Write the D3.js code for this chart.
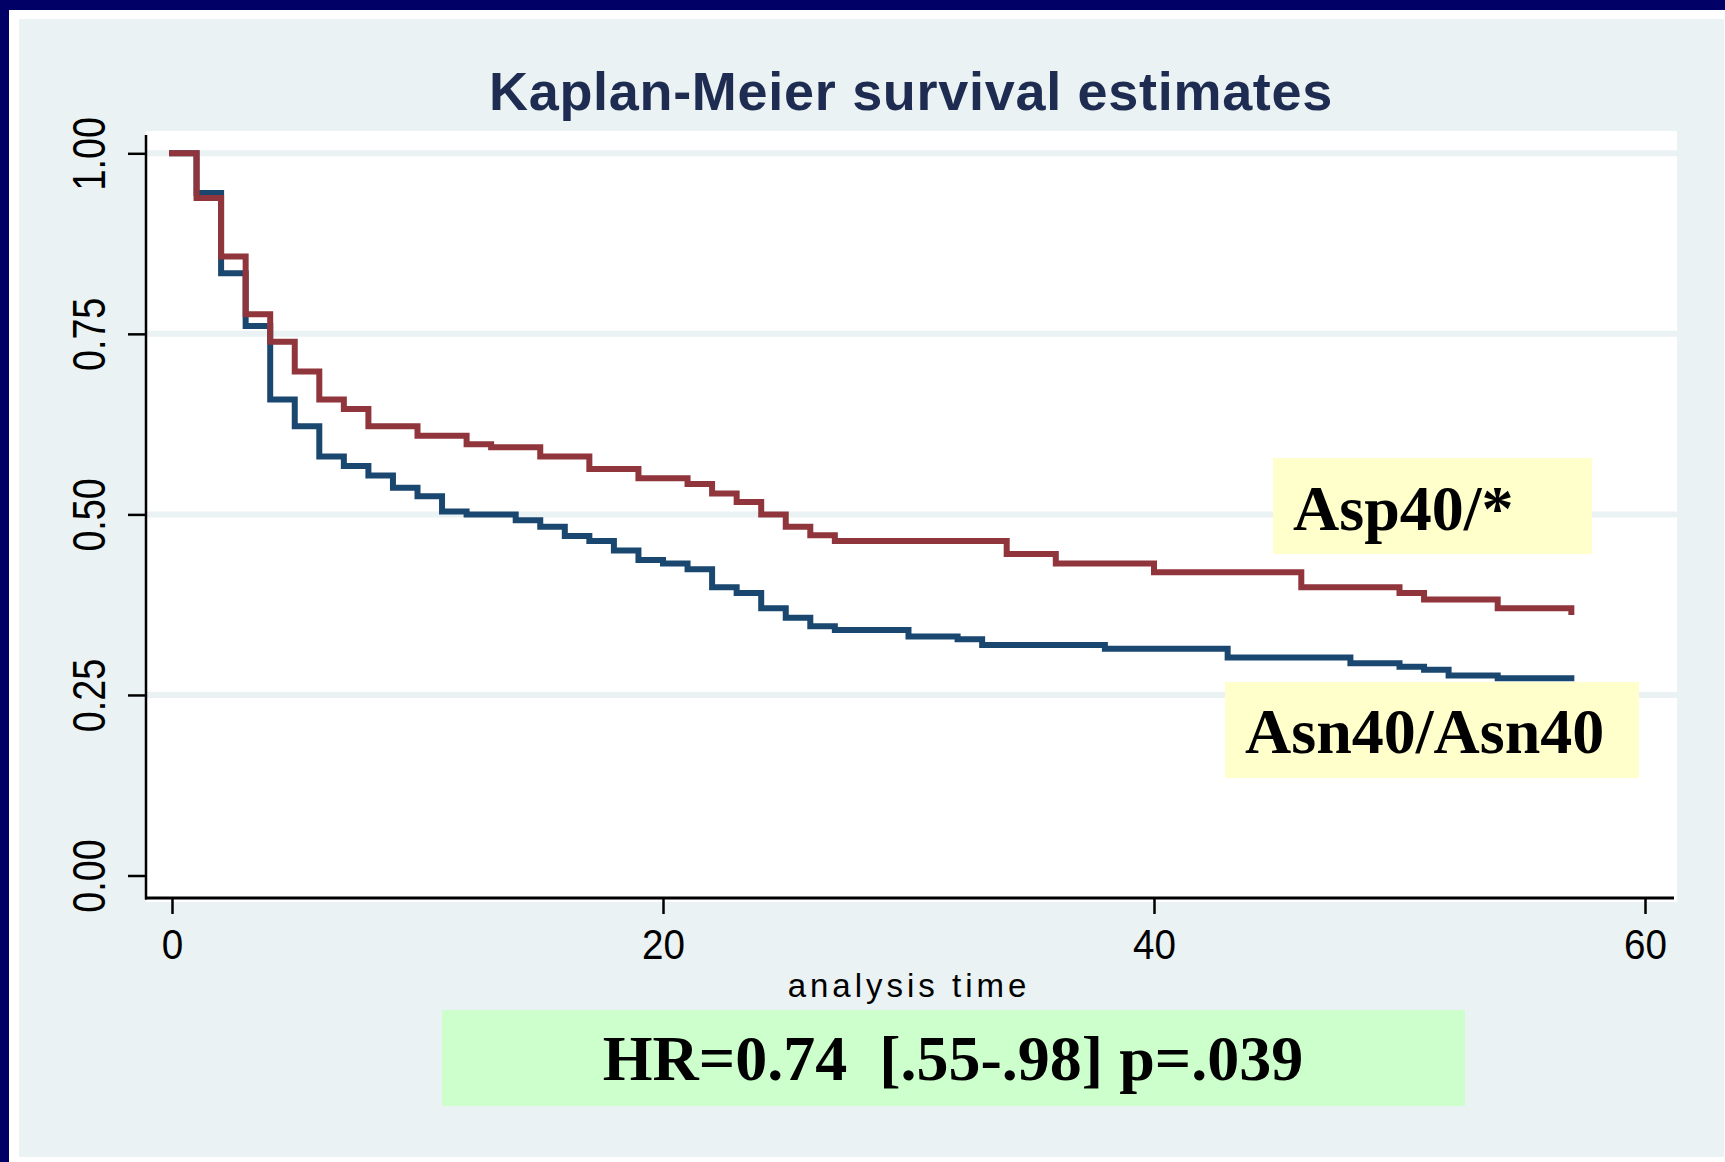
<!DOCTYPE html>
<html>
<head>
<meta charset="utf-8">
<script src="https://cdn.jsdelivr.net/npm/d3@7"></script>
<style>
    body { margin: 0; background: #ffffff; }
    svg { display: block; }
</style>
</head>
<body>
<div id="kmplot"></div>
<script>
// Kaplan-Meier curves, Asp40/* vs Asn40/Asn40
// times where the estimate steps down (months) and the level after the step
var redTimes = [0, 1, 2, 3, 4, 5, 6, 7, 8, 10, 12, 13, 15, 17, 19, 21, 22, 23, 24, 25, 26, 27, 34, 36, 40, 46, 50, 51, 54, 57];
var redSurv = [1, 0.938, 0.857, 0.777, 0.739, 0.698, 0.659, 0.646, 0.622, 0.609, 0.597, 0.593, 0.580, 0.563, 0.550,
    0.542, 0.529, 0.517, 0.500, 0.483, 0.471, 0.463, 0.445, 0.432, 0.420, 0.399, 0.391, 0.382, 0.370, 0.365];

var blueTimes = [0, 1, 2, 3, 4, 5, 6, 7, 8, 9, 10, 11, 12, 14, 15, 16, 17, 18, 19, 20, 21, 22, 23, 24, 25, 26, 27,
    30, 32, 33, 38, 43, 48, 50, 51, 52, 54, 57];
var blueSurv = [1, 0.945, 0.834, 0.761, 0.659, 0.622, 0.580, 0.567, 0.554, 0.537, 0.525, 0.504, 0.500, 0.492, 0.483,
    0.470, 0.463, 0.450, 0.437, 0.432, 0.424, 0.399, 0.391, 0.370, 0.357, 0.345, 0.340,
    0.331, 0.327, 0.319, 0.314, 0.302, 0.294, 0.289, 0.285, 0.277, 0.273, 0.273];

var yTicks = [0, 0.25, 0.5, 0.75, 1];
var xTicks = [0, 20, 40, 60];
var gridTicks = [0.25, 0.5, 0.75, 1];

var titleText = "Kaplan-Meier survival estimates";
var xTitle = "analysis time";
var redLabel = "Asp40/*";
var blueLabel = "Asn40/Asn40";
var hrText = "HR=0.74  [.55-.98] p=.039";

// svg container
var svgWidth = 1725;
var svgHeight = 1162;
var bgColor = "#eaf2f3";

var svg = d3.select("#kmplot").append("svg")
    .attr("width", svgWidth)
    .attr("height", svgHeight);

// frame: navy edge on top/left, white strip, then light graph region
svg.append("rect").attr("x", 0).attr("y", 0).attr("width", svgWidth).attr("height", svgHeight).attr("fill", "#ffffff");
svg.append("rect").attr("x", 0).attr("y", 0).attr("width", svgWidth).attr("height", 10).attr("fill", "#000066");
svg.append("rect").attr("x", 0).attr("y", 0).attr("width", 9).attr("height", svgHeight).attr("fill", "#000066");
svg.append("rect").attr("x", 19).attr("y", 19).attr("width", 1705).attr("height", 1138).attr("fill", bgColor);

// plot region
var plot = {left: 146, top: 131, right: 1677, bottom: 902};
svg.append("rect")
    .attr("x", plot.left)
    .attr("y", plot.top)
    .attr("width", plot.right - plot.left)
    .attr("height", plot.bottom - plot.top)
    .attr("fill", "#ffffff");

// scales
var xScale = d3.scaleLinear().domain([0, 60]).range([172, 1645]);
var yScale = d3.scaleLinear().domain([0, 1]).range([875.5, 153.3]);

// gridlines
svg.append("g").selectAll("line")
    .data(gridTicks)
    .enter()
    .append("line")
    .attr("x1", plot.left)
    .attr("x2", plot.right)
    .attr("y1", d => yScale(d))
    .attr("y2", d => yScale(d))
    .attr("stroke", bgColor)
    .attr("stroke-width", 6);

// title
svg.append("text")
    .attr("x", 911)
    .attr("y", 110)
    .attr("text-anchor", "middle")
    .attr("font-family", "'Liberation Sans', Arial, sans-serif")
    .attr("font-size", 54)
    .attr("font-weight", "bold")
    .attr("letter-spacing", 0.7)
    .attr("fill", "#1e2c52")
    .text(titleText);

// y axis
var yAxis = d3.axisLeft(yScale)
    .tickValues(yTicks)
    .tickFormat(d3.format(".2f"))
    .tickSize(18)
    .tickSizeOuter(0);

var gy = svg.append("g")
    .attr("transform", `translate(${plot.left}, 0)`)
    .call(yAxis);
gy.select(".domain").remove();
gy.selectAll(".tick line").attr("stroke", "#000").attr("stroke-width", 2.5);
gy.selectAll(".tick text")
    .attr("x", null)
    .attr("dy", null)
    .attr("text-anchor", "middle")
    .attr("transform", "translate(-41, 0) rotate(-90) scale(0.82, 1)")
    .attr("font-family", "'Liberation Sans', Arial, sans-serif")
    .attr("font-size", 46)
    .attr("fill", "#000");

// x axis
var xAxis = d3.axisBottom(xScale)
    .tickValues(xTicks)
    .tickFormat(d3.format("d"))
    .tickSize(16)
    .tickSizeOuter(0);

var gx = svg.append("g")
    .attr("transform", "translate(0, 898)")
    .call(xAxis);
gx.select(".domain").remove();
gx.selectAll(".tick line").attr("stroke", "#000").attr("stroke-width", 2.5);
gx.selectAll(".tick text")
    .attr("y", 61)
    .attr("dy", null)
    .attr("transform", "scale(0.92, 1)")
    .attr("font-family", "'Liberation Sans', Arial, sans-serif")
    .attr("font-size", 42)
    .attr("fill", "#000");

// axis lines
svg.append("line")
    .attr("x1", plot.left).attr("x2", plot.left)
    .attr("y1", 135).attr("y2", 899.5)
    .attr("stroke", "#000").attr("stroke-width", 2.5);
svg.append("line")
    .attr("x1", plot.left - 1).attr("x2", 1674)
    .attr("y1", 898).attr("y2", 898)
    .attr("stroke", "#000").attr("stroke-width", 3);

// x title
svg.append("text")
    .attr("x", 909)
    .attr("y", 997)
    .attr("text-anchor", "middle")
    .attr("font-family", "'Liberation Sans', Arial, sans-serif")
    .attr("font-size", 33)
    .attr("letter-spacing", 4)
    .attr("fill", "#000")
    .text(xTitle);

// survival curves, blue first so maroon sits on top
var stepLine = d3.line()
    .x(d => xScale(d[0]))
    .y(d => yScale(d[1]))
    .curve(d3.curveStepAfter);

var blueData = blueTimes.map((t, i) => [t, blueSurv[i]]);
var redData = redTimes.map((t, i) => [t, redSurv[i]]);

svg.append("path")
    .datum(blueData)
    .attr("d", stepLine)
    .attr("fill", "none")
    .attr("stroke", "#1a476f")
    .attr("stroke-width", 6)
    .attr("stroke-linecap", "square");

svg.append("path")
    .datum(redData)
    .attr("d", stepLine)
    .attr("fill", "none")
    .attr("stroke", "#90353b")
    .attr("stroke-width", 6)
    .attr("stroke-linecap", "square");

// text boxes
var serif = "'Liberation Serif', 'Times New Roman', serif";

function labelBox(x, y, w, h, fill, text, tx, ty, anchor) {
    svg.append("rect")
        .attr("x", x).attr("y", y)
        .attr("width", w).attr("height", h)
        .attr("fill", fill);
    svg.append("text")
        .attr("x", tx)
        .attr("y", ty)
        .attr("text-anchor", anchor)
        .attr("font-family", serif)
        .attr("font-size", 64)
        .attr("font-weight", "bold")
        .style("white-space", "pre")
        .attr("fill", "#000")
        .text(text);
}

labelBox(1273, 458, 319, 96, "#ffffcc", redLabel, 1293, 530, "start");
labelBox(1225, 682, 414, 96, "#ffffcc", blueLabel, 1245, 753, "start");
labelBox(442, 1010, 1023, 96, "#ccffcc", hrText, 953, 1080, "middle");
</script>
</body>
</html>
